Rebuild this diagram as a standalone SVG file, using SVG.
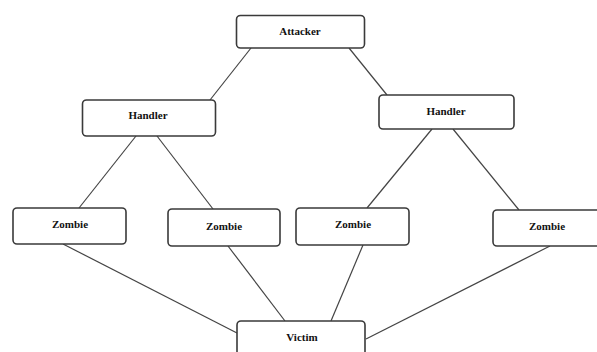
<svg xmlns="http://www.w3.org/2000/svg" width="597" height="352" viewBox="0 0 597 352">
<style>
.box{fill:#fff;stroke:#3a3a3a;stroke-width:1.6}
.lbl{font-family:"Liberation Serif","Times New Roman",serif;font-size:11px;font-weight:bold;fill:#111;text-anchor:middle}
.con line{stroke:#444;stroke-width:1.2}
</style>
<rect width="597" height="352" fill="#fff"/>
<g id="connectors" class="con">
<line x1="251" y1="48" x2="210" y2="100"/>
<line x1="349" y1="48" x2="387" y2="95"/>
<line x1="136" y1="136" x2="79" y2="208"/>
<line x1="157" y1="136" x2="213" y2="209"/>
<line x1="432" y1="129" x2="367" y2="208"/>
<line x1="453" y1="129" x2="519" y2="210"/>
<line x1="63" y1="244" x2="237" y2="333"/>
<line x1="228" y1="246" x2="285" y2="321"/>
<line x1="363" y1="245" x2="331" y2="321"/>
<line x1="550" y1="246" x2="366" y2="339"/>
</g>
<g id="attacker"><rect class="box" x="236.5" y="15.5" width="128" height="32.5" rx="4"/><text class="lbl" x="300" y="35">Attacker</text></g>
<g id="handler1"><rect class="box" x="82.5" y="100" width="133" height="36" rx="4"/><text class="lbl" x="148" y="119">Handler</text></g>
<g id="handler2"><rect class="box" x="379" y="95" width="135" height="34" rx="4"/><text class="lbl" x="446" y="115">Handler</text></g>
<g id="zombie1"><rect class="box" x="13" y="208" width="113" height="36" rx="4"/><text class="lbl" x="70" y="228">Zombie</text></g>
<g id="zombie2"><rect class="box" x="168" y="209" width="112" height="37" rx="4"/><text class="lbl" x="224" y="230">Zombie</text></g>
<g id="zombie3"><rect class="box" x="296" y="208" width="113" height="37" rx="4"/><text class="lbl" x="353" y="228">Zombie</text></g>
<g id="zombie4"><rect class="box" x="493" y="210" width="108" height="36" rx="4"/><text class="lbl" x="547" y="230">Zombie</text></g>
<g id="victim"><rect class="box" x="237" y="321" width="128" height="36" rx="4"/><text class="lbl" x="302" y="341">Victim</text></g>
</svg>
